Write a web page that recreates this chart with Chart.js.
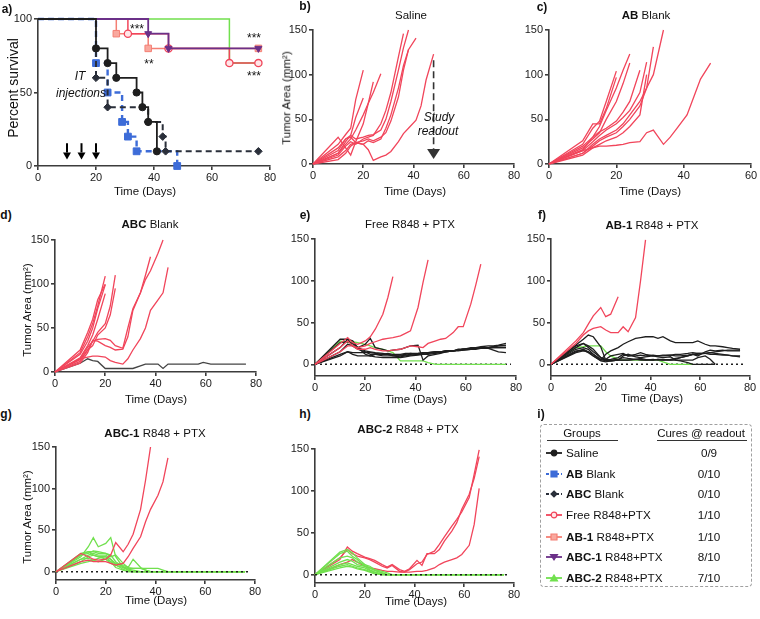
<!DOCTYPE html>
<html>
<head>
<meta charset="utf-8">
<script src="https://cdn.jsdelivr.net/npm/chart.js@4.4.1/dist/chart.umd.min.js"></script>
<style>
body{margin:0;background:#fff;width:760px;height:619px;position:relative;overflow:hidden;font-family:"Liberation Sans",Arial,sans-serif;color:#111}
canvas{position:absolute}
.t{position:absolute;white-space:nowrap;line-height:1;font-size:11.5px;transform:translate(-50%,-50%)}
.p{font-weight:bold;font-size:12px}
.yt{transform:translate(-50%,-50%) rotate(-90deg)}
.it{font-style:italic;font-size:12px}
.st{font-size:12px}
#box{position:absolute;left:540px;top:424px;width:210px;height:161px;border:1.5px dashed #a0a0a0;border-radius:4px}
.ul{position:absolute;height:0;border-top:1.2px solid #333}
.row{position:absolute;left:566px;white-space:nowrap;line-height:1;font-size:11.7px;transform:translateY(-50%)}
</style>
</head>
<body>
<script>
// ---- survival (panel a) ----
const salineT = [0, 20, 24, 27, 34, 36, 38, 41];
const salineS = [100, 80, 70, 60, 50, 40, 30, 10];
const abBlankT = [0, 20, 24, 29, 31, 34, 48];
const abBlankS = [100, 70, 50, 30, 20, 10, 0];
const abcBlankT = [0, 20, 24, 38, 43, 44, 76];
const abcBlankS = [100, 60, 40, 30, 20, 10, 10];
const freeT = [0, 31, 45, 66, 76];
const freeS = [100, 90, 80, 70, 70];
const ab1T = [0, 27, 38, 76];
const ab1S = [100, 90, 80, 80];
const abc1T = [0, 38, 45, 76];
const abc1S = [100, 90, 80, 80];
const abc2T = [0, 66, 76];
const abc2S = [100, 70, 70];
const injectionDays = [10, 15, 20];
const readoutDay = 48;

// ---- tumour growth (panels b-h), values per measurement day ----
const days = [0,10,13,15,17,20,22,24,27,29,31,34,36,38,41,43,45,48,50,52,55,57,59,62,64,66,69,71,73,76];

const salineMice = [
  [0,22,33,40,72,105],
  [0,18,28,32,52,74],
  [0,30,18,10,25,45,68,92],
  [0,12,22,28,38,55,68,80,101],
  [0,10,20,25,22,28,30,32,45,60,80,120,146],
  [0,12,25,32,28,30,32,33,38,50,70,105,130,150],
  [0,8,15,22,24,26,28,26,30,35,48,75,105,128,141],
  [0,15,28,30,24,22,26,24,28,40,55,85,110,128],
  [0,5,12,20,24,22,16,4,8,10,14,25,34,40,49,65,94,123]
];
const abBlankMice = [
  [0,22,40,48,70,104],
  [0,26,45,45,62,97],
  [0,20,30,42,60,85,105,123],
  [0,18,28,35,50,70,90,113],
  [0,15,25,32,38,45,52,60,80,114],
  [0,12,20,26,30,35,42,50,65,85,131],
  [0,12,22,28,32,38,45,55,70,85,100,150],
  [0,10,18,22,26,30,35,42,55,100],
  [0,16,30,36,40,48,58,70,105],
  [0,15,18,20,20,21,22,24,25,35,38,22,30,40,55,75,95,113]
];
const abcBlankMice = [
  [0,22,40,55,75,109],
  [0,20,35,50,72,99],
  [0,16,30,42,60,89],
  [0,25,45,60,82,100],
  [0,15,28,35,45,55,75,110],
  [0,14,25,30,42,50,65,95],
  [0,12,25,35,37,38,36,30,27,50,72,90,110,131],
  [0,10,22,36,35,30,28,25,26,40,70,90,105,115,135,150],
  [0,15,17,18,18,17,13,11,9,15,25,38,50,70,82,90,119]
];
const abcBlankSurvivor = [
  [0,10,15,13,12,4,4,4,4,4,4,7,9,9,9,4,9,9,9,9,9,9,11,9,9,9,9,9,9,9]
];
const freeGrow = [
  [0,25,32,26,24,28,33,42,60,80,105],
  [0,15,22,22,20,22,25,27,30,31,32,34,37,40,68,98,125],
  [0,20,28,22,18,18,20,18,16,16,17,18,20,22,21,20,25,28,30,31,38,45,45,72,95,120]
];
const freeStable = [
  [0,30,30,22,18,15,12,12,10,10,10,10,11,12,13,14,14,15,15,16,16,18,18,20,20,21,22,22,23,25],
  [0,20,30,28,20,12,10,12,12,13,12,12,13,13,12,14,14,15,15,16,16,17,18,18,19,19,20,21,22,23],
  [0,15,24,22,20,24,31,20,18,16,17,18,20,22,23,5,10,12,13,15,16,17,18,19,20,20,19,17,15,14],
  [0,12,15,14,14,14,14,13,12,12,10,9,10,11,12,12,13,14,15,15,16,16,17,18,18,19,19,20,20,20],
  [0,10,15,12,10,10,10,9,8,8,8,8,9,10,11,12,12,13,14,15,16,17,18,18,19,20,20,21,22,22],
  [0,26,27,25,20,16,15,14,13,12,11,11,12,13,13,13,14,14,15,16,16,17,17,18,19,19,20,20,20,20]
];
const freeCured = [
  [0,28,26,27,26,24,22,20,18,16,14,4,4,4,4,4,2,0,0,0,0,0,0,0,0,0,0,0,0,0]
];
const ab1Grow = [
  [0,28,38,48,58,68,57,60,81],
  [0,25,35,40,43,45,41,38,38,45,39,56,100,149]
];
const ab1Stable = [
  [0,23,30,35,33,21,5,4,5,5,5,6,6,5,5,6,6,5,6,8,10,12,12,13,14,13,12,11,10,9],
  [0,15,18,15,10,5,12,16,20,24,27,31,32,33,33,31,33,28,26,26,26,26,28,24,22,22,21,20,19,18],
  [0,20,25,22,18,8,5,6,8,12,10,10,11,10,11,10,10,11,10,10,11,12,13,13,14,15,16,17,17,17],
  [0,22,25,20,15,8,6,5,6,8,7,6,7,6,5,6,5,6,7,8,10,12,10,15,17,16,17,16,16,16],
  [0,18,20,18,12,6,4,4,5,5,5,6,5,5,6,5,5,5,5,5,5,5,8,10,6,0],
  [0,16,17,14,10,4,3,4,5,10,12,9,8,9,10,9,8,9,5,4,2,0,0,0,0,0],
  [0,14,16,15,12,5,6,10,12,13,10,12,14,12,10,10,11,11,12,12,13,14,13,13,12,12,11,11,10,10]
];
const ab1Cured = [
  [0,20,21,22,22,22,15,10,6,5,5,5,5,5,5,5,3,0,0,0,0,0]
];
const abc1Grow = [
  [0,22,18,15,14,15,20,35,24,33,45,75,110,150],
  [0,12,14,12,12,12,10,8,10,18,28,42,60,75,92,108,137]
];
const abc1Cured = [
  [0,18,30,41,30,34,41,18,5,2,0,0,0,0,0,0,0,0,0,0,0,0,0,0,0,0,0,0,0,0],
  [0,20,24,24,22,22,18,20,10,5,15,5,2,0,0,0,0,0,0,0,0,0,0,0,0,0,0,0,0,0],
  [0,15,20,22,20,20,15,8,3,0,0,0,0,0,0,0,0,0,0,0,0,0,0,0,0,0,0,0,0,0],
  [0,12,18,20,18,18,12,5,2,0,0,0,0,0,0,0,0,0,0,0,0,0,0,0,0,0,0,0,0,0],
  [0,22,24,20,18,15,10,8,5,3,2,0,0,0,0,0,0,0,0,0,0,0,0,0,0,0,0,0,0,0],
  [0,15,16,14,12,15,12,10,8,5,4,4,2,0,0,0,0,0,0,0,0,0,0,0,0,0,0,0,0,0],
  [0,10,12,14,16,18,15,10,6,4,4,4,4,4,4,2,0,0,0,0,0,0,0,0,0,0,0,0,0,0],
  [0,20,22,25,24,22,20,12,6,2,0,0,0,0,0,0,0,0,0,0,0,0,0,0,0,0,0,0,0,0]
];
const abc2Grow = [
  [0,20,30,25,22,20,18,15,10,8,11,4,3,6,13,15,24,28,36,45,58,66,75,92,120,149],
  [0,18,33,28,25,21,19,17,12,9,12,6,4,7,17,11,25,25,30,40,52,62,78,96,115,141],
  [0,12,15,18,15,10,8,7,5,4,4,3,3,3,4,4,5,8,12,15,18,20,24,35,60,103]
];
const abc2Cured = [
  [0,27,30,26,20,12,8,5,2,0,0,0,0,0,0,0,0,0,0,0,0,0,0,0,0,0,0,0,0,0],
  [0,25,28,22,18,10,6,3,0,0,0,0,0,0,0,0,0,0,0,0,0,0,0,0,0,0,0,0,0,0],
  [0,20,22,20,15,12,10,6,4,2,0,0,0,0,0,0,0,0,0,0,0,0,0,0,0,0,0,0,0,0],
  [0,15,18,16,12,10,8,5,2,0,0,0,0,0,0,0,0,0,0,0,0,0,0,0,0,0,0,0,0,0],
  [0,12,14,12,10,8,5,3,1,0,0,0,0,0,0,0,0,0,0,0,0,0,0,0,0,0,0,0,0,0],
  [0,10,12,10,8,6,4,2,0,0,0,0,0,0,0,0,0,0,0,0,0,0,0,0,0,0,0,0,0,0],
  [0,8,10,9,7,5,3,1,0,0,0,0,0,0,0,0,0,0,0,0,0,0,0,0,0,0,0,0,0,0]
];
const zeroLineDays = [0, 78];

const xTicks80 = [0, 20, 40, 60, 80];
const xTicks60 = [0, 20, 40, 60];
const yTicksSurv = [0, 50, 100];
const yTicksTumor = [0, 50, 100, 150];

const legendBold = ['', 'AB', 'ABC', '', 'AB-1', 'ABC-1', 'ABC-2'];
const legendRest = ['Saline', ' Blank', ' Blank', 'Free R848+PTX', ' R848+PTX', ' R848+PTX', ' R848+PTX'];
const legendCures = ['0/9', '0/10', '0/10', '1/10', '1/10', '8/10', '7/10'];

const FONT = '"Liberation Sans", Arial, sans-serif';
const AX = '#3c3c3c';
const RED = '#f1455b';
const GRN = '#71e04e';
const BLK = '#1e1e1e';
const BLUE = '#3d6cd8';
const SALMON = '#f47f74';
const PURPLE = '#6b3088';
Chart.defaults.font.family = FONT;

function mice(list, color) {
  return list.map(v => ({
    data: v.map((y, i) => ({x: days[i], y})),
    borderColor: color, borderWidth: 1.3, pointRadius: 0, clip: false
  }));
}
function zeroLine() {
  return {data: zeroLineDays.map(x => ({x, y: 0})), borderColor: BLK, borderWidth: 1.5,
          borderDash: [2, 3], pointRadius: 0, clip: false};
}
function surv(T, S, color, style, opts) {
  return Object.assign({
    data: T.map((x, i) => ({x, y: S[i]})),
    stepped: 'before', borderColor: color, borderWidth: 1.8,
    pointStyle: style, pointBackgroundColor: color, pointBorderColor: color,
    pointBorderWidth: 1,
    pointRadius: c => c.dataIndex === 0 ? 0 : 4, clip: false
  }, opts || {});
}

function arrow(ctx, px, p0, p1, head, half, dashed, color, lw) {
  ctx.save();
  ctx.strokeStyle = color; ctx.fillStyle = color; ctx.lineWidth = lw;
  if (dashed) ctx.setLineDash([7, 4]);
  ctx.beginPath(); ctx.moveTo(px, p0); ctx.lineTo(px, p1 - head); ctx.stroke();
  ctx.setLineDash([]);
  ctx.beginPath(); ctx.moveTo(px - half, p1 - head); ctx.lineTo(px + half, p1 - head);
  ctx.lineTo(px, p1); ctx.closePath(); ctx.fill();
  ctx.restore();
}

function panel(r, xMax, yMin, yMax, xTicks, yTicks, datasets, extra) {
  const YW = 30, XH = 20, PL = 4, PT = 10, PR = 14, PB = 4;
  const cv = document.createElement('canvas');
  const w = r.R - r.L + PL + YW + PR, h = r.B - r.T + PT + XH + PB;
  cv.width = w; cv.height = h;
  cv.style.left = (r.L - PL - YW) + 'px'; cv.style.top = (r.T - PT) + 'px';
  cv.style.width = w + 'px'; cv.style.height = h + 'px';
  document.body.appendChild(cv);
  const axis = (min, max, ticks, pos) => ({
    type: 'linear', position: pos, min, max,
    border: {display: true, color: AX, width: 1.6},
    grid: {drawOnChartArea: false, drawTicks: true, tickLength: 4, color: AX, lineWidth: 1.6},
    ticks: {color: '#1a1a1a', font: {size: 11}, padding: pos === 'left' ? 2 : 1, maxRotation: 0, autoSkip: false},
    afterBuildTicks: s => { s.ticks = ticks.map(v => ({value: v})); },
    afterFit: s => { if (pos === 'left') s.width = YW; else s.height = XH; }
  });
  return new Chart(cv, {
    type: 'line',
    data: {datasets},
    options: {
      responsive: false, animation: false, devicePixelRatio: 1,
      layout: {padding: {left: PL, top: PT, right: PR, bottom: PB}},
      plugins: {legend: {display: false}, tooltip: {enabled: false}},
      elements: {line: {tension: 0}},
      scales: {x: axis(0, xMax, xTicks, 'bottom'), y: axis(yMin, yMax, yTicks, 'left')}
    },
    plugins: extra ? [extra] : []
  });
}

// a) survival
panel({L: 38, T: 19, R: 270, B: 166}, 80, 0, 100, xTicks80, yTicksSurv, [
  surv(salineT, salineS, BLK, 'circle', {pointRadius: c => c.dataIndex === 0 ? 0 : 3.6}),
  surv(abcBlankT, abcBlankS, '#2a2f3a', 'rectRot', {borderDash: [6, 4], borderWidth: 2, pointRadius: c => c.dataIndex === 0 ? 0 : 3.8}),
  surv(abBlankT, abBlankS, BLUE, 'rect', {borderDash: [6, 4], borderWidth: 2.4, pointRadius: c => c.dataIndex === 0 ? 0 : 4.8}),
  surv(abc1T, abc1S, PURPLE, 'triangle', {pointRotation: 180}),
  surv(freeT, freeS, RED, 'circle', {pointBackgroundColor: '#ffe6e8', borderWidth: 1.5, pointBorderWidth: 1.3, pointRadius: c => c.dataIndex === 0 ? 0 : 3.6}),
  surv(ab1T, ab1S, SALMON, 'rect', {pointBackgroundColor: '#f9a89e', borderWidth: 1.5, pointRadius: c => c.dataIndex === 0 ? 0 : 4.6}),
  surv(abc2T, abc2S, GRN, 'triangle', {borderWidth: 1.5})
], {
  id: 'inj',
  afterDatasetsDraw(ch) {
    const xs = ch.scales.x, ys = ch.scales.y;
    injectionDays.forEach(d => arrow(ch.ctx, xs.getPixelForValue(d), ys.getPixelForValue(15.5),
      ys.getPixelForValue(4.5), 7, 4, false, '#000', 2));
  }
});

// b) Saline
panel({L: 313, T: 30, R: 514, B: 164}, 80, 0, 150, xTicks80, yTicksTumor, mice(salineMice, RED), {
  id: 'readout',
  afterDatasetsDraw(ch) {
    const xs = ch.scales.x, ys = ch.scales.y;
    arrow(ch.ctx, xs.getPixelForValue(readoutDay), ys.getPixelForValue(116),
      ys.getPixelForValue(5.5), 10, 6.5, true, '#333', 1.6);
  }
});
// c) AB Blank
panel({L: 549, T: 30, R: 751, B: 164}, 60, 0, 150, xTicks60, yTicksTumor, mice(abBlankMice, RED));
// d) ABC Blank
panel({L: 55, T: 240, R: 256, B: 372}, 80, 0, 150, xTicks80, yTicksTumor,
  [...mice(abcBlankMice, RED), ...mice(abcBlankSurvivor, '#444')]);
// e) Free R848 + PTX
panel({L: 315, T: 239, R: 516, B: 376}, 80, -14, 150, xTicks80, yTicksTumor,
  [...mice(freeGrow, RED), ...mice(freeStable, BLK), ...mice(freeCured, GRN), zeroLine()]);
// f) AB-1 R848 + PTX
panel({L: 551, T: 239, R: 750, B: 376}, 80, -14, 150, xTicks80, yTicksTumor,
  [...mice(ab1Grow, RED), ...mice(ab1Stable, BLK), ...mice(ab1Cured, GRN), zeroLine()]);
// g) ABC-1 R848 + PTX
panel({L: 56, T: 447, R: 255, B: 580}, 80, -10, 150, xTicks80, yTicksTumor,
  [...mice(abc1Grow, RED), zeroLine(), ...mice(abc1Cured, GRN)]);
// h) ABC-2 R848 + PTX
panel({L: 315, T: 449, R: 514, B: 583}, 80, -10, 150, xTicks80, yTicksTumor,
  [zeroLine(), ...mice(abc2Cured, GRN), ...mice(abc2Grow, RED)]);

// ---- text ----
function txt(x, y, html, cls, extra) {
  const d = document.createElement('div');
  d.className = 't ' + (cls || '');
  d.style.left = x + 'px'; d.style.top = y + 'px';
  if (extra) d.style.cssText += extra;
  d.innerHTML = html;
  document.body.appendChild(d);
}
txt(7, 9, 'a)', 'p'); txt(305, 6, 'b)', 'p'); txt(542, 7, 'c)', 'p');
txt(6, 215, 'd)', 'p'); txt(305, 215, 'e)', 'p'); txt(542, 215, 'f)', 'p');
txt(6, 414, 'g)', 'p'); txt(305, 414, 'h)', 'p'); txt(541, 414, 'i)', 'p');

txt(411, 16, 'Saline');
txt(646, 16, '<b>AB</b> Blank');
txt(150, 225, '<b>ABC</b> Blank');
txt(410, 225, 'Free R848 + PTX');
txt(652, 226, '<b>AB-1</b> R848 + PTX');
txt(155, 434, '<b>ABC-1</b> R848 + PTX');
txt(408, 430, '<b>ABC-2</b> R848 + PTX');

[[145, 192], [415, 192], [650, 192], [156, 400], [416, 400], [652, 399], [156, 601], [416, 602]]
  .forEach(p => txt(p[0], p[1], 'Time (Days)'));
txt(13, 88, 'Percent survival', 'yt', 'font-size:14px');
txt(287, 98, 'Tumor Area (mm²)', 'yt');
txt(28, 310, 'Tumor Area (mm²)', 'yt');
txt(28, 517, 'Tumor Area (mm²)', 'yt');

txt(80, 76, 'IT', 'it'); txt(81, 93, 'injections', 'it');
txt(439, 117, 'Study', 'it'); txt(438, 131, 'readout', 'it');
txt(137, 29, '***', 'st'); txt(149, 64, '**', 'st');
txt(254, 38, '***', 'st'); txt(254, 76, '***', 'st');

// ---- i) legend table ----
const box = document.createElement('div'); box.id = 'box'; document.body.appendChild(box);
txt(582, 434, 'Groups'); txt(701, 434, 'Cures @ readout');
[[547, 71], [657, 90]].forEach(u => {
  const d = document.createElement('div'); d.className = 'ul';
  d.style.left = u[0] + 'px'; d.style.top = '440px'; d.style.width = u[1] + 'px';
  document.body.appendChild(d);
});
const rowY = [453, 473.5, 494, 515, 536.5, 557, 577.5];
const iconStyle = [
  {c: BLK, m: 'circle', dash: false, f: BLK},
  {c: BLUE, m: 'rect', dash: true, f: BLUE},
  {c: '#2a2f3a', m: 'diamond', dash: true, f: '#2a2f3a'},
  {c: RED, m: 'circle', dash: false, f: '#ffe6e8'},
  {c: SALMON, m: 'rect', dash: false, f: '#f9a89e'},
  {c: PURPLE, m: 'down', dash: false, f: PURPLE},
  {c: GRN, m: 'up', dash: false, f: GRN}
];
rowY.forEach((y, i) => {
  const d = document.createElement('div'); d.className = 'row';
  d.style.top = y + 'px';
  d.innerHTML = (legendBold[i] ? '<b>' + legendBold[i] + '</b>' : '') + legendRest[i];
  document.body.appendChild(d);
  txt(709, y, legendCures[i], '', 'font-size:11.7px');
  const cv = document.createElement('canvas');
  cv.width = 16; cv.height = 10;
  cv.style.left = '546px'; cv.style.top = (y - 5) + 'px';
  document.body.appendChild(cv);
  const c = cv.getContext('2d'), s = iconStyle[i];
  c.strokeStyle = s.c; c.fillStyle = s.f; c.lineWidth = 1.8;
  if (s.dash) c.setLineDash([3, 2]);
  c.beginPath(); c.moveTo(0, 5); c.lineTo(16, 5); c.stroke(); c.setLineDash([]);
  c.lineWidth = 1.2;
  c.beginPath();
  if (s.m === 'circle') c.arc(8, 5, 2.8, 0, Math.PI * 2);
  else if (s.m === 'rect') c.rect(5, 2, 6, 6);
  else if (s.m === 'diamond') { c.moveTo(8, 2); c.lineTo(11, 5); c.lineTo(8, 8); c.lineTo(5, 5); }
  else if (s.m === 'down') { c.moveTo(4.5, 2.5); c.lineTo(11.5, 2.5); c.lineTo(8, 8); }
  else { c.moveTo(4.5, 8); c.lineTo(11.5, 8); c.lineTo(8, 2); }
  c.closePath(); c.fill(); c.stroke();
});
</script>
</body>
</html>
